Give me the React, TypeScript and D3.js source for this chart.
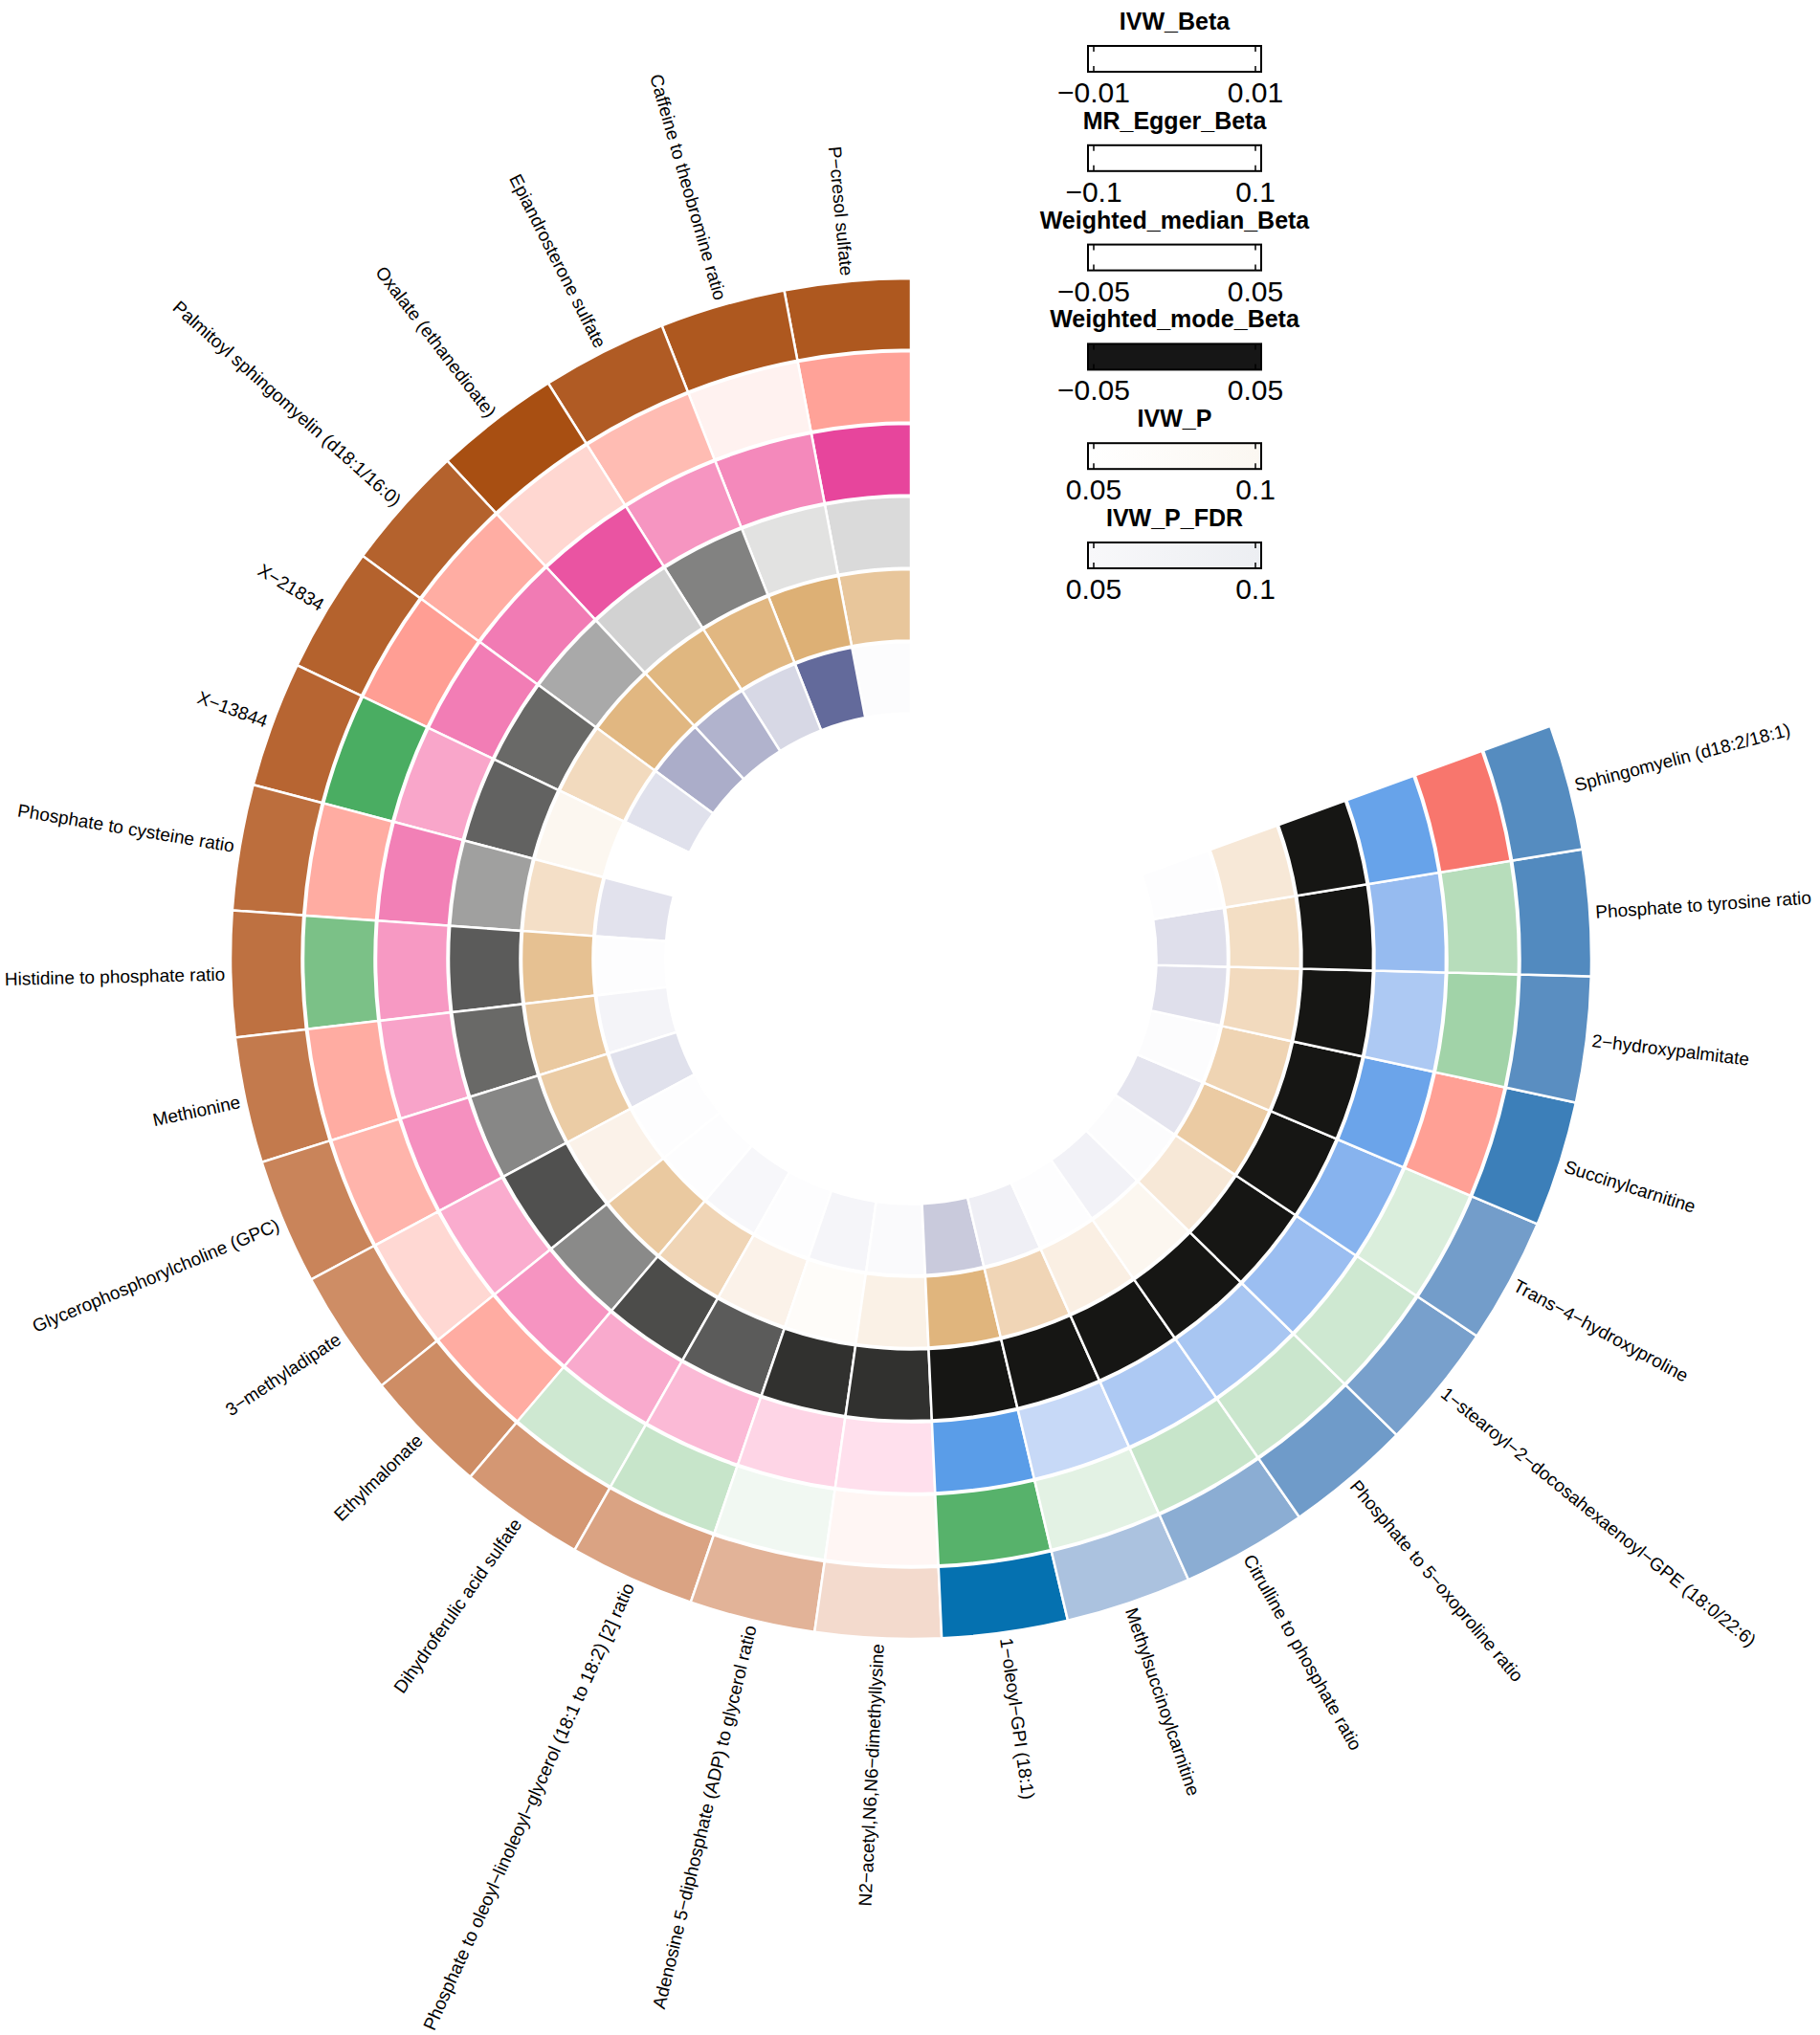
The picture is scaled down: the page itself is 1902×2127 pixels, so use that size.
import React from 'react';
import * as d3 from 'd3';

const metabolites = [
  'P−cresol sulfate',
  'Caffeine to theobromine ratio',
  'Epiandrosterone sulfate',
  'Oxalate (ethanedioate)',
  'Palmitoyl sphingomyelin (d18:1/16:0)',
  'X−21834',
  'X−13844',
  'Phosphate to cysteine ratio',
  'Histidine to phosphate ratio',
  'Methionine',
  'Glycerophosphorylcholine (GPC)',
  '3−methyladipate',
  'Ethylmalonate',
  'Dihydroferulic acid sulfate',
  'Phosphate to oleoyl−linoleoyl−glycerol (18:1 to 18:2) [2] ratio',
  'Adenosine 5−diphosphate (ADP) to glycerol ratio',
  'N2−acetyl,N6,N6−dimethyllysine',
  '1−oleoyl−GPI (18:1)',
  'Methylsuccinoylcarnitine',
  'Citrulline to phosphate ratio',
  'Phosphate to 5−oxoproline ratio',
  '1−stearoyl−2−docosahexaenoyl−GPE (18:0/22:6)',
  'Trans−4−hydroxyproline',
  'Succinylcarnitine',
  '2−hydroxypalmitate',
  'Phosphate to tyrosine ratio',
  'Sphingomyelin (d18:2/18:1)',
];

const ivwBeta = [-0.095, -0.095, -0.093, -0.1, -0.089, -0.089, -0.087, -0.082, -0.08, -0.075, -0.069, -0.064, -0.064, -0.058, -0.051, -0.042, -0.02, 0.1, 0.041, 0.056, 0.069, 0.065, 0.067, 0.089, 0.078, 0.081, 0.08];
const mrEggerBeta = [-0.207, -0.03, -0.15, -0.09, -0.183, -0.216, 0.294, -0.186, 0.222, -0.186, -0.168, -0.087, -0.186, 0.084, 0.096, 0.024, -0.021, 0.276, 0.048, 0.096, 0.09, 0.084, 0.063, -0.213, 0.159, 0.123, -0.3];
const weightedMedianBeta = [-0.15, -0.102, -0.092, -0.141, -0.113, -0.111, -0.078, -0.109, -0.089, -0.08, -0.096, -0.073, -0.093, -0.074, -0.061, -0.037, -0.027, 0.15, 0.056, 0.081, 0.086, 0.098, 0.115, 0.138, 0.081, 0.102, 0.141];
const weightedModeBeta = [-0.108, -0.117, -0.003, -0.099, -0.051, 0.03, 0.039, -0.039, 0.048, 0.03, -0.009, 0.063, -0.012, 0.069, 0.048, 0.108, 0.108, 0.21, 0.18, 0.17, 0.19, 0.16, 0.2, 0.22, 0.18, 0.19, 0.17];
const ivwP = [0.0155, 0.002, 0.0065, 0.006, 0.0065, 0.028, 0.045, 0.031, 0.0125, 0.0175, 0.019, 0.0425, 0.0175, 0.025, 0.0425, 0.048, 0.0415, 0.005, 0.025, 0.0405, 0.045, 0.0365, 0.0185, 0.024, 0.028, 0.03, 0.0365];
const ivwPFdr = [0.984, 0.2, 0.8, 0.608, 0.576, 0.848, 0.998, 0.856, 0.992, 0.944, 0.848, 0.992, 0.992, 0.96, 0.992, 0.952, 0.976, 0.728, 0.92, 0.992, 0.936, 0.984, 0.864, 0.984, 0.84, 0.84, 0.992];

const trackNames = ['IVW_Beta', 'MR_Egger_Beta', 'Weighted_median_Beta', 'Weighted_mode_Beta', 'IVW_P', 'IVW_P_FDR'];
const trackValues = [ivwBeta, mrEggerBeta, weightedMedianBeta, weightedModeBeta, ivwP, ivwPFdr];
const legendTickLabels = [
  ['−0.01', '0.01'],
  ['−0.1', '0.1'],
  ['−0.05', '0.05'],
  ['−0.05', '0.05'],
  ['0.05', '0.1'],
  ['0.05', '0.1'],
];
const legendFills = [
  ['#ffffff', '#ffffff'],
  ['#ffffff', '#ffffff'],
  ['#ffffff', '#ffffff'],
  ['#161616', '#161616'],
  ['#ffffff', '#fbf7f1'],
  ['#f8f8fa', '#eceef2'],
];

const lab = d3.interpolateLab;
const colorScales = [
  d3.scaleLinear<string>().domain([-0.1, 0, 0.1]).range(['#a84f12', '#ffffff', '#0571b0']).interpolate(lab).clamp(true),
  d3.scaleLinear<string>().domain([-0.3, 0, 0.3]).range(['#f8766d', '#ffffff', '#45ab5f']).interpolate(lab).clamp(true),
  d3.scaleLinear<string>().domain([-0.15, 0, 0.15]).range(['#e7459c', '#ffffff', '#5a9de8']).interpolate(lab).clamp(true),
  d3.scaleLinear<string>().domain([-0.15, 0.15]).range(['#ffffff', '#161614']).interpolate(lab).clamp(true),
  d3.scaleLinear<string>().domain([0, 0.05]).range(['#dbad6f', '#ffffff']).interpolate(lab).clamp(true),
  d3.scaleLinear<string>().domain([0.2, 1]).range(['#636a9b', '#ffffff']).interpolate(lab).clamp(true),
];

const W = 1902;
const H = 2127;
const CX = 952;
const CY = 1002;
const SPAN = 290;
const R_OUT = 711;
const PITCH = 76;
const FONT = '"Liberation Sans", Arial, Helvetica, sans-serif';

export default function App() {
  const angle = d3
    .scaleBand<string>()
    .domain(metabolites)
    .range([0, -SPAN])
    .paddingInner(0)
    .paddingOuter(0);
  const radial = d3
    .scaleBand<string>()
    .domain(trackNames)
    .range([R_OUT, R_OUT - PITCH * trackNames.length]);
  const bw = angle.bandwidth();
  const rw = radial.bandwidth();
  const arc = d3.arc<any>();
  const toRad = (d: number) => (d * Math.PI) / 180;

  const cells: JSX.Element[] = [];
  trackNames.forEach((t, ti) => {
    const r0 = (radial(t) as number) + 1.5;
    const r1 = (radial(t) as number) + rw;
    metabolites.forEach((m, mi) => {
      const a0 = angle(m) as number;
      const path = arc({
        innerRadius: r0,
        outerRadius: r1,
        startAngle: toRad(a0),
        endAngle: toRad(a0 + bw),
      });
      cells.push(
        <path
          key={`${ti}-${mi}`}
          d={path as string}
          fill={colorScales[ti](trackValues[ti][mi])}
          stroke="#ffffff"
          strokeWidth={2.5}
        />
      );
    });
  });

  const R_LABEL = 717;
  const labels = metabolites.map((m) => {
    const mid = (angle(m) as number) + bw / 2;
    const th = ((mid % 360) + 360) % 360;
    const x = Math.sin(toRad(th)) * R_LABEL;
    const y = -Math.cos(toRad(th)) * R_LABEL;
    const right = th > 0 && th < 180;
    const rot = right ? th - 90 : th + 90;
    return (
      <text
        key={m}
        transform={`translate(${x},${y}) rotate(${rot})`}
        textAnchor={right ? 'start' : 'end'}
        dominantBaseline="central"
        fontFamily={FONT}
        fontSize={19}
        fill="#000"
      >
        {m}
      </text>
    );
  });

  const LX0 = 1137;
  const LW = 181;
  const LH = 27;
  const LCX = LX0 + LW / 2;
  const LPITCH = 103.8;
  const tickX = [LX0 + 6, LX0 + LW - 6];

  const legends = trackNames.map((t, i) => {
    const top = 48 + i * LPITCH;
    const gid = `lg${i}`;
    return (
      <g key={t}>
        <defs>
          <linearGradient id={gid} x1="0" x2="1" y1="0" y2="0">
            <stop offset="0" stopColor={legendFills[i][0]} />
            <stop offset="1" stopColor={legendFills[i][1]} />
          </linearGradient>
        </defs>
        <text
          x={LCX}
          y={top - 17}
          textAnchor="middle"
          fontFamily={FONT}
          fontWeight="bold"
          fontSize={25}
          fill="#000"
        >
          {t}
        </text>
        <rect x={LX0} y={top} width={LW} height={LH} fill={`url(#${gid})`} stroke="#000" strokeWidth={2} />
        {tickX.map((tx, k) => (
          <g key={k}>
            <line x1={tx} x2={tx} y1={top} y2={top + 6} stroke="#000" strokeWidth={1.5} />
            <line x1={tx} x2={tx} y1={top + LH - 6} y2={top + LH} stroke="#000" strokeWidth={1.5} />
            <text
              x={tx}
              y={top + 59}
              textAnchor="middle"
              fontFamily={FONT}
              fontSize={30}
              fill="#000"
            >
              {legendTickLabels[i][k]}
            </text>
          </g>
        ))}
      </g>
    );
  });

  return (
    <div style={{ position: 'absolute', left: 0, top: 0, width: W, height: H, background: '#fff' }}>
      <svg width={W} height={H} viewBox={`0 0 ${W} ${H}`} style={{ display: 'block' }}>
        <rect x={0} y={0} width={W} height={H} fill="#ffffff" />
        <g transform={`translate(${CX},${CY})`}>
          {cells}
          {labels}
        </g>
        {legends}
      </svg>
    </div>
  );
}
